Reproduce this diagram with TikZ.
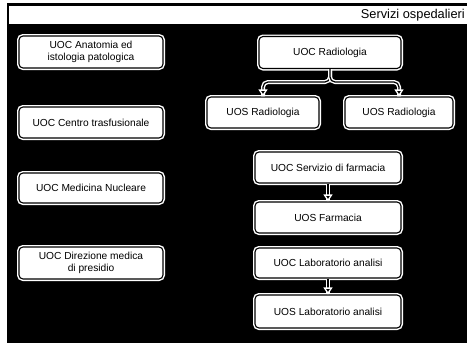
\documentclass[tikz,border=0pt]{standalone}
\usepackage{fontspec}
\setmainfont{Liberation Sans}
\usetikzlibrary{arrows.meta}
\begin{document}
\begin{tikzpicture}[x=1pt,y=-1pt,
  unit/.style={draw=black, line width=1.1pt, fill=white, rounded corners=4pt,
    preaction={draw=white, line width=4pt}, align=center, inner sep=0pt,
    font=\fontsize{10.2}{11.5}\selectfont},
  leftunit/.style={unit, minimum width=144pt},
  conn/.style={draw=black, line width=1.2pt, rounded corners=5pt,
    preaction={draw=white, line width=4pt, arrows=-},
    -{Triangle[length=7pt,width=9pt,color=white,fill=black,line width=1.3pt]}},
  title/.style={anchor=east, inner sep=0pt, font=\fontsize{12.8}{14}\selectfont}]
  \useasboundingbox (0,0) rectangle (467,343);
  % page background and header strip
  \fill[white] (0,0) rectangle (467,343);
  \fill[black] (7,3) rectangle (467,343);
  \fill[white] (9,6) rectangle (467,24);
  \node[title] (ttl) at (465,15.5) {Servizi ospedalieri};

  % left column
  \node[leftunit, minimum height=32pt] (anat) at (91,52) {UOC Anatomia ed\\istologia patologica};
  \node[leftunit, minimum height=31pt] (trasf) at (91,122.5) {UOC Centro trasfusionale};
  \node[leftunit, minimum height=30pt] (nucl) at (91,188) {UOC Medicina Nucleare};
  \node[leftunit, minimum height=32pt] (dir) at (91,263) {UOC Direzione medica\\di presidio};

  % radiology branch
  \node[unit, minimum width=142pt, minimum height=32pt] (rad) at (330,52.5) {UOC Radiologia};
  \node[unit, minimum width=112pt, minimum height=31pt] (radA) at (263,112.5) {UOS Radiologia};
  \node[unit, minimum width=108pt, minimum height=31pt] (radB) at (399,112.5) {UOS Radiologia};
  \coordinate (fork) at (330,82);

  % pharmacy and laboratory
  \node[unit, minimum width=146pt, minimum height=31pt] (farm) at (328,167.5) {UOC Servizio di farmacia};
  \node[unit, minimum width=146pt, minimum height=31pt] (farmS) at (328,217.5) {UOS Farmacia};
  \node[unit, minimum width=146pt, minimum height=30pt] (lab) at (328,263) {UOC Laboratorio analisi};
  \node[unit, minimum width=146pt, minimum height=33pt] (labS) at (328,311.5) {UOS Laboratorio analisi};

  % connectors
  \draw[conn] (rad.south) -- (fork) -| (radA.north);
  \draw[conn] (rad.south) -- (fork) -| (radB.north);
  \draw[conn] (farm.south) -- (farmS.north);
  \draw[conn] (lab.south) -- (labS.north);
\end{tikzpicture}
\end{document}
